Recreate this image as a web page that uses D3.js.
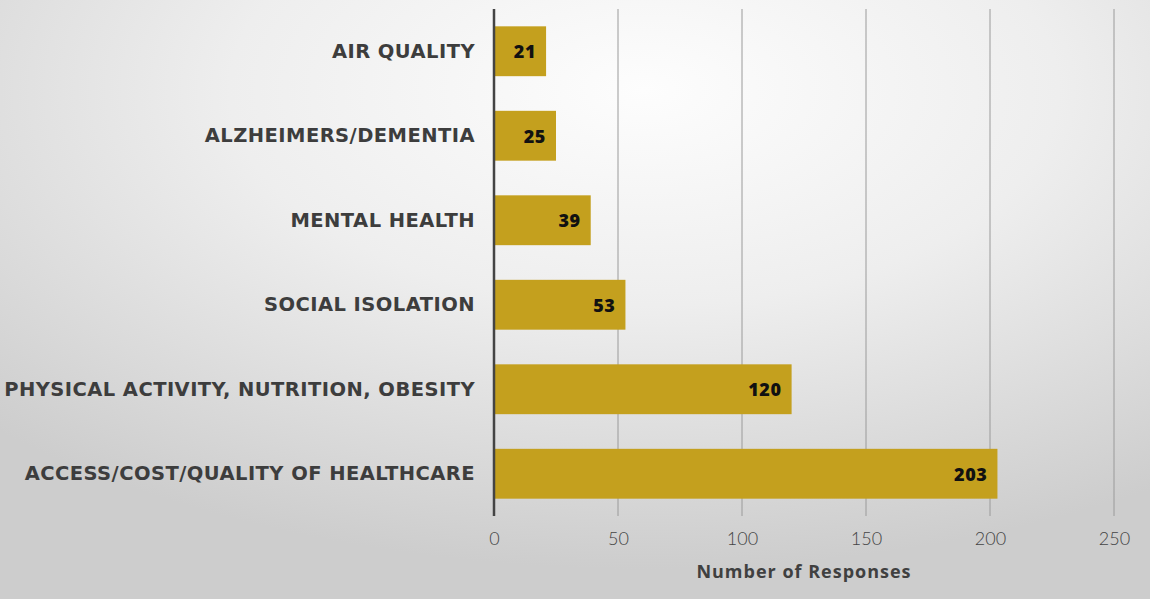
<!DOCTYPE html>
<html><head><meta charset="utf-8">
<script src="https://cdn.jsdelivr.net/npm/d3@7"></script>
<style>html,body{margin:0;padding:0;overflow:hidden;}svg{display:block;}</style>
</head><body>
<svg id="c" width="1150" height="599"></svg>
<script>
const categories = ["AIR QUALITY","ALZHEIMERS/DEMENTIA","MENTAL HEALTH","SOCIAL ISOLATION","PHYSICAL ACTIVITY, NUTRITION, OBESITY","ACCESS/COST/QUALITY OF HEALTHCARE"];
const values = [21,25,39,53,120,203];
const xTicks = [0,50,100,150,200,250];
const xTitle = "Number of Responses";

const svg = d3.select("#c");
const W=1150,H=599;
const defs = svg.append("defs");
const g = defs.append("radialGradient").attr("id","bg").attr("cx","0.56").attr("cy","0.15").attr("r","0.8")
  .attr("gradientUnits","objectBoundingBox");
g.append("stop").attr("offset","0").attr("stop-color","#fdfdfd");
g.append("stop").attr("offset","0.45").attr("stop-color","#eeeeee");
g.append("stop").attr("offset","1").attr("stop-color","#cdcdcd");
svg.append("rect").attr("width",W).attr("height",H).attr("fill","url(#bg)");

const x = d3.scaleLinear().domain([0,250]).range([494,1114]);
const y = d3.scaleBand().domain(categories).range([9,516]).paddingInner(0.41).paddingOuter(0.205);

svg.append("g").selectAll("line").data(xTicks.slice(1)).join("line")
  .attr("x1",d=>x(d)).attr("x2",d=>x(d)).attr("y1",9).attr("y2",516)
  .attr("stroke","#9a9a9a").attr("stroke-width",1);

svg.append("g").selectAll("rect").data(values).join("rect")
  .attr("x",x(0)).attr("y",(d,i)=>y(categories[i]))
  .attr("width",d=>x(d)-x(0)).attr("height",y.bandwidth())
  .attr("fill","#C4A01E");

svg.append("g").selectAll("text").data(values).join("text")
  .attr("x",d=>x(d)-10).attr("y",(d,i)=>y(categories[i])+y.bandwidth()/2)
  .attr("text-anchor","end").attr("dominant-baseline","central")
  .attr("font-family","'Open Sans', sans-serif").attr("font-weight","800")
  .attr("font-size","18px").attr("letter-spacing","0.6px").attr("fill","#111").text(d=>d);

const xa = svg.append("g").attr("transform","translate(0,516)")
  .call(d3.axisBottom(x).tickValues(xTicks).tickSize(0).tickPadding(16));
xa.select(".domain").remove();
xa.selectAll("text").attr("font-family","Lato, sans-serif").attr("font-weight","300")
  .attr("font-size","18px").attr("fill","#444");

const ya = svg.append("g").attr("transform","translate(494,0)")
  .call(d3.axisLeft(y).tickSize(0).tickPadding(19));
ya.select(".domain").attr("stroke","#444").attr("stroke-width",2.5).attr("d","M0,9V516");
ya.selectAll("text").attr("font-family","'DejaVu Sans', sans-serif").attr("font-weight","700")
  .attr("font-size","19.5px").attr("letter-spacing","0.45px").attr("fill","#3d3d3d");

svg.append("text").attr("x",(x(0)+x(250))/2).attr("y",578).attr("text-anchor","middle")
  .attr("font-family","'Open Sans', sans-serif").attr("font-weight","700").attr("font-size","18px")
  .attr("letter-spacing","1px").attr("fill","#404040").text(xTitle);
</script>
</body></html>
